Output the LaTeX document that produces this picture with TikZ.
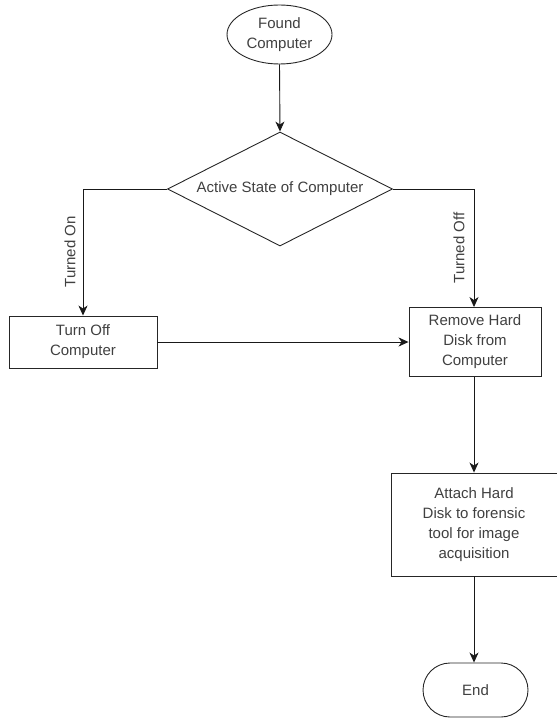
\documentclass[tikz,border=0pt]{standalone}
\usepackage{fontspec}
\setmainfont{Liberation Sans}
\usetikzlibrary{shapes.geometric,shapes.misc,arrows.meta}
\begin{document}
\begin{tikzpicture}[x=1pt,y=1pt,
  every node/.style={font=\fontsize{15}{20}\selectfont, text=black!75},
  shp/.style={draw=black!85, line width=0.9pt, inner sep=0pt, align=center},
  procbox/.style={shp, rectangle},
  conn/.style={draw=black!90, line width=0.9pt, -{Stealth[length=10pt,width=9pt,inset=3pt]}},
  lbl/.style={rotate=90, inner sep=0pt}]
\useasboundingbox (0,0) rectangle (556,-719);
\node[shp, ellipse, minimum width=105pt, minimum height=59pt] (found) at (279.5,-34.5) {Found\\Computer};
\node[shp, diamond, minimum width=225pt, minimum height=114pt, shape aspect=1.97] (state) at (280,-189) {Active State of Computer};
\node[procbox, minimum width=148pt, minimum height=52pt] (turnoff) at (83,-342) {Turn Off\\Computer};
\node[procbox, minimum width=132pt, minimum height=69pt] (remove) at (475,-342) {Remove Hard\\Disk from\\Computer};
\node[procbox, minimum width=166pt, minimum height=103pt] (attach) at (474,-524.5) {Attach Hard\\Disk to forensic\\tool for image\\acquisition};
\node[shp, rounded rectangle, minimum width=105pt, minimum height=54pt] (end) at (475.5,-690) {End};
\node[lbl] (lon) at (70,-252) {Turned On};
\node[lbl] (loff) at (459,-248) {Turned Off};
\draw[conn] (found.south) -- (state.north);
\draw[conn] (state.west) -| (turnoff.north);
\draw[conn] (state.east) -| ([xshift=-1pt]remove.north);
\draw[conn] (turnoff.east) -- (remove.west);
\draw[conn] ([xshift=-1pt]remove.south) -- (attach.north);
\draw[conn] (attach.south) -- ([xshift=-1.5pt]end.north);
\end{tikzpicture}
\end{document}
